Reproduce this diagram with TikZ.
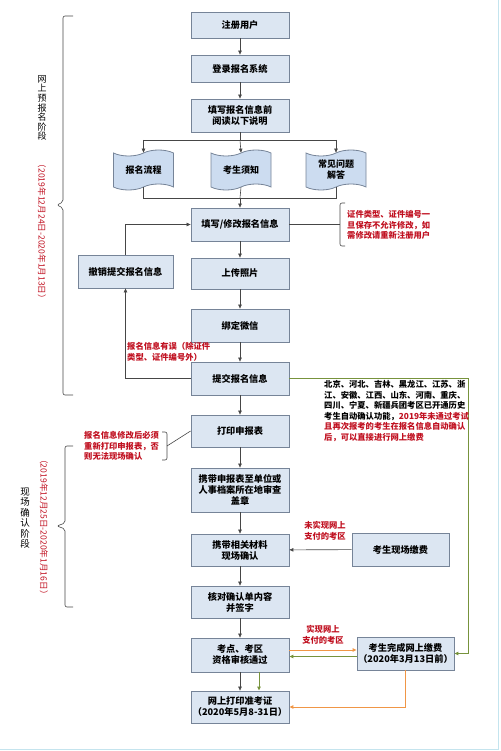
\documentclass[tikz,border=0pt]{standalone}
\usepackage{fontspec}
\setmainfont{Noto Sans CJK SC}
\usepackage{xcolor}
\usepackage{tikz}
\usetikzlibrary{arrows.meta,shapes.symbols}
\definecolor{boxfill}{RGB}{220,230,242}
\definecolor{docfill}{RGB}{204,220,240}
\definecolor{boxline}{RGB}{118,132,152}
\definecolor{linegray}{RGB}{70,70,70}
\definecolor{notered}{RGB}{192,16,32}
\definecolor{paygreen}{RGB}{119,147,60}
\definecolor{payorange}{RGB}{240,150,70}
\definecolor{framecyan}{RGB}{196,228,238}

\begin{document}
\begin{tikzpicture}[x=1pt,y=-1pt,
		box/.style={draw=boxline, fill=boxfill, line width=0.8pt, minimum width=98pt, minimum height=33pt, align=center, inner sep=1pt, font=\fontsize{9.2}{11}\selectfont\bfseries},
		doc/.style={tape, draw=boxline, fill=docfill, line width=0.8pt, minimum width=60pt, minimum height=40pt, tape bend height=6pt, align=center, inner sep=1pt, font=\fontsize{9}{11}\selectfont\bfseries},
		arr/.style={-{Triangle[length=4pt,width=3.5pt]}, line width=0.6pt, color=linegray},
		link/.style={line width=0.6pt, color=linegray},
		greenarr/.style={-{Triangle[length=4pt,width=3.5pt]}, line width=1pt, color=paygreen},
		orangearr/.style={-{Triangle[length=4pt,width=3.5pt]}, line width=1pt, color=payorange},
		note/.style={align=left, inner sep=0pt, text=notered, font=\fontsize{8.3}{10.6}\selectfont\bfseries},
		stagename/.style={align=center, inner sep=0pt, font=\fontsize{9}{9.6}\selectfont},
		datetext/.style={inner sep=0pt, text=notered, font=\fontsize{8.6}{10}\selectfont},
		bracket/.style={line width=0.6pt, color=linegray, rounded corners=2pt}]
	\useasboundingbox (0,0) rectangle (500,751);
	\draw[framecyan, line width=1.2pt] (0,749.5) -- (498.5,749.5) -- (498.5,0);

	\node[box, minimum height=26pt] (register) at (240,25) {注册用户};
	\node[box, minimum height=27pt] (login) at (240,68.5) {登录报名系统};
	\node[box] (readme) at (240,115.5) {填写报名信息前\\阅读以下说明};
	\node[doc] (flow) at (143.5,170) {报名流程};
	\node[doc] (notice) at (241,170) {考生须知};
	\node[doc] (faq) at (336,170) {常见问题\\解答};
	\node[box] (fill) at (240,224.5) {填写/修改报名信息};
	\node[box, minimum height=31pt] (photo) at (240,273.5) {上传照片};
	\node[box] (wechat) at (240,325.5) {绑定微信};
	\node[box] (submit) at (240,378.5) {提交报名信息};
	\node[box, minimum width=95pt] (cancel) at (125.5,271.5) {撤销提交报名信息};
	\node[box, minimum height=32pt] (print) at (240,431) {打印申报表};
	\node[box, minimum height=44pt] (stamp) at (240,490) {携带申报表至单位或\\人事档案所在地审查\\盖章};
	\node[box, minimum height=32pt] (confirm) at (240,550) {携带相关材料\\现场确认};
	\node[box, minimum height=32pt] (check) at (240,602) {核对确认单内容\\并签字};
	\node[box, minimum height=34pt] (review) at (240,655) {考点、考区\\资格审核通过};
	\node[box, minimum height=32pt] (ticket) at (240,707) {网上打印准考证\\（2020年5月8-31日）};
	\node[box, minimum width=97pt] (payonsite) at (400.5,549.5) {考生现场缴费};
	\node[box, minimum width=97pt] (payonline) at (405.5,653.5) {考生完成网上缴费\\（2020年3月13日前）};

	\coordinate (split) at (240,140);
	\coordinate (join) at (240,198);
	\draw[link] (readme) -- (split);
	\draw[link] (split -| flow) -- (split -| faq);
	\draw[arr] (split -| flow) -- (flow.north);
	\draw[arr] (split) -- (notice.north);
	\draw[arr] (split -| faq) -- (faq.north);
	\draw[link] (flow.south) -- (join -| flow) -- (join -| faq) -- (faq.south);
	\draw[link] (notice.south) -- (join);
	\draw[arr] (join) -- (fill);
	\draw[arr] (register) -- (login);
	\draw[arr] (login) -- (readme);
	\draw[arr] (fill) -- (photo);
	\draw[arr] (photo) -- (wechat);
	\draw[arr] (wechat) -- (submit);
	\draw[arr] (submit.west) -| (cancel.south);
	\draw[arr] (cancel.north) |- (fill.west);
	\draw[arr] (submit) -- (print);
	\draw[arr] (print) -- (stamp);
	\draw[arr] (stamp) -- (confirm);
	\draw[arr] (confirm) -- (check);
	\draw[arr] (check) -- (review);
	\draw[arr] (review) -- (ticket);
	\draw[arr] (payonsite) -- (confirm);

	\coordinate (greenturn) at (468,378.5);
	\draw[greenarr] (submit.east) -- (greenturn) |- (payonline.east);
	\draw[orangearr] ([yshift=5pt]review.east) -- ([yshift=5pt]review.east -| payonline.west);
	\draw[greenarr] ([yshift=-3pt]payonline.west) -- ([yshift=-3pt]payonline.west -| review.east);
	\draw[greenarr] ([xshift=19pt]review.south) -- ([xshift=19pt]ticket.north);
	\draw[orangearr] (payonline.south) |- (ticket.east);

	\coordinate (lockmark) at (340,224.5);
	\draw[link] (fill.east) -- (lockmark);
	\draw[bracket] (345,203) -- (340,203) -- (340,246) -- (345,246);
	\node[note, anchor=west] (locknote) at (347,225) {证件类型、证件编号一\\旦保存不允许修改，如\\需修改请重新注册用户};
	\node[note, anchor=west] (errnote) at (127,352) {报名信息有误（除证件\\类型、证件编号外）};
	\coordinate (reprintmark) at (167,446);
	\draw[bracket] (162,432) -- (167,432) -- (167,460) -- (162,460);
	\draw[link] (reprintmark) -- (print.west);
	\node[note, anchor=west] (reprintnote) at (84,446) {报名信息修改后必须\\重新打印申报表，否\\则无法现场确认};
	\node[note, text=black, anchor=west] (autonote) at (324,411) {北京、河北、吉林、黑龙江、江苏、浙\\江、安徽、江西、山东、河南、重庆、\\四川、宁夏、新疆兵团考区已开通历史\\考生自动确认功能，\textcolor{notered}{2019年未通过考试}\\\textcolor{notered}{且再次报考的考生在报名信息自动确认}\\\textcolor{notered}{后，可以直接进行网上缴费}};
	\node[note, align=center] (offlinenote) at (325,531) {未实现网上\\支付的考区};
	\node[note, align=center] (onlinenote) at (323,635) {实现网上\\支付的考区};

	\draw[bracket] (73,16) -- (63,16) -- (63,202) -- (57,205) -- (63,208) -- (63,395) -- (73,395);
	\node[stagename] (onlinestage) at (42,108) {网\\上\\预\\报\\名\\阶\\段};
	\node[datetext, rotate=-90] (onlinedate) at (42,231.5) {（2019年12月24日-2020年1月13日）};
	\draw[bracket] (73,446) -- (65,446) -- (65,523) -- (57,526) -- (65,529) -- (65,607) -- (73,607);
	\node[stagename, font=\fontsize{9.5}{10.5}\selectfont] (sitestage) at (25,518) {现\\场\\确\\认\\阶\\段};
	\node[datetext, rotate=-90] (sitedate) at (44,527) {（2019年12月25日-2020年1月16日）};
\end{tikzpicture}
\end{document}
